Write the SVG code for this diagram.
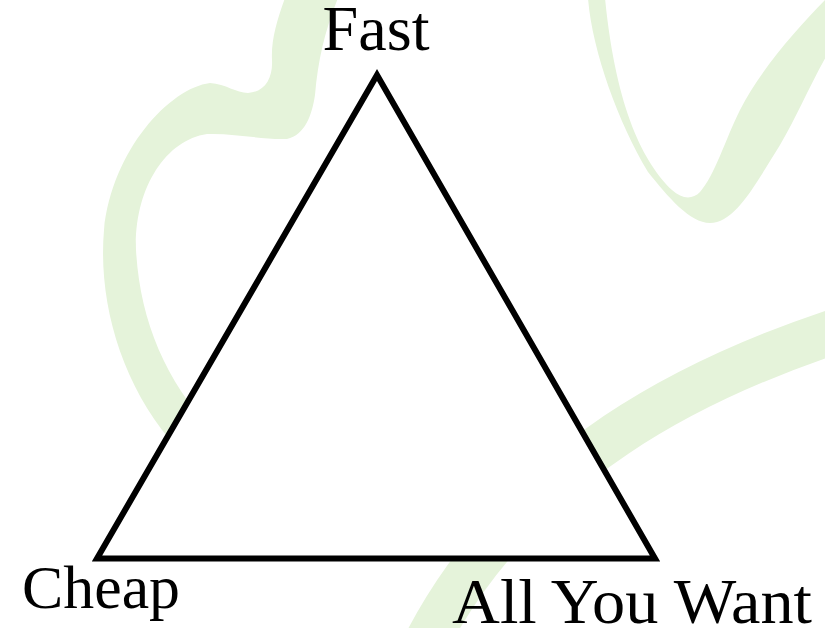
<svg xmlns="http://www.w3.org/2000/svg" width="825" height="628" viewBox="0 0 825 628">
<style>
.sw{fill:#E5F3DA;stroke:none}
.band{fill:none;stroke:#E5F3DA;stroke-width:45}
.lbl{font-family:"Liberation Serif","Times New Roman",serif;fill:#000}
</style>
<rect x="0" y="0" width="825" height="628" fill="#fff"/>
<g id="background">
<path class="sw" d="M285,-2 C277,20 271,40 272,60 C273,78 265,92 248,93 C236,93 226,84 210,83 C170,88 112,150 104,230 C98,300 120,380 170,440 L205,470 L212,430 C165,380 140,320 136,250 C134,190 165,140 207,134 C235,133 262,140 287,139 C305,135 312,115 315,95 C318,60 325,30 338,-2 Z"/>
<path class="sw" d="M588,-2 C592,50 618,122 648,172 C668,197 690,223 710,223 C735,223 755,185 780,145 C795,120 810,85 827,55 L827,-2 C800,25 760,70 740,110 C725,140 715,175 700,192 C692,200 682,199 672,190 C644,163 616,110 605,-2 Z"/>
<path class="band" d="M845,328 C700,375 520,460 425,645"/>
</g>
<g id="triangle">
<polygon points="377,75 97,558.5 655,558.5" fill="#fff" stroke="#000" stroke-width="6" stroke-linejoin="miter"/>
</g>
<g id="connectors"></g>
<g id="node-fast"><text class="lbl" x="376" y="50" font-size="63" text-anchor="middle" textLength="107" lengthAdjust="spacingAndGlyphs">Fast</text></g>
<g id="node-cheap"><text class="lbl" x="22" y="608" font-size="62" textLength="158" lengthAdjust="spacingAndGlyphs">Cheap</text></g>
<g id="node-all"><text class="lbl" x="452" y="623" font-size="63.5" textLength="360" lengthAdjust="spacingAndGlyphs">All You Want</text></g>
</svg>
